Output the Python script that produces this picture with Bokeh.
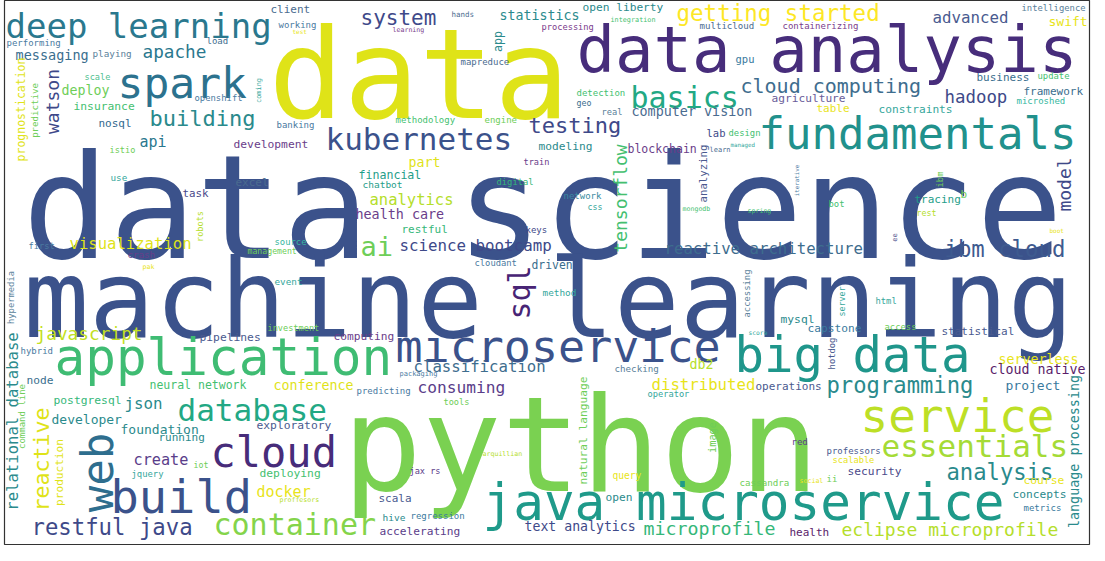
from bokeh.plotting import figure
from bokeh.models import ColumnDataSource, Range1d
from bokeh.core.properties import value
from bokeh.embed import file_html
from bokeh.resources import INLINE
import math

# word, x (left edge), y (middle), font size px, colour
big_words = [
    ("data", 276, 80, 125, "#dfe318"),
    ("data science", 30, 213, 144, "#3b528b"),
    ("machine learning", 31, 305, 109, "#3b528b"),
    ("python", 350, 450, 132, "#7ad151"),
    ("data analysis", 584, 55, 64, "#472d7b"),
    ("fundamentals", 766, 139, 44, "#21918c"),
    ("basics", 638, 103, 30, "#22a884"),
    ("microservice", 403, 352, 45, "#3b528b"),
    ("big data", 742, 361, 49, "#1f968b"),
    ("service", 868, 421, 46, "#bddf26"),
    ("essentials", 889, 451, 31, "#a5db36"),
    ("java microservice", 490, 508, 51, "#1f9a8a"),
    ("application", 62, 363, 51, "#3fbc73"),
    ("database", 185, 415, 31, "#22a884"),
    ("cloud", 218, 458, 42, "#472c7a"),
    ("build", 118, 502, 47, "#3b528b"),
    ("container", 221, 530, 30, "#84d44b"),
    ("deep learning", 13, 31, 34, "#2a788e"),
    ("spark", 125, 88, 43, "#2c728e"),
    ("kubernetes", 333, 144, 31, "#3b528b"),
    ("building", 157, 124, 22, "#2a8a8c"),
    ("ai", 368, 252, 27, "#6ece58"),
]

top_left = [
    ("client", 278, 15, 11, "#4a6b8f"), ("system", 368, 23, 21, "#3e4989"),
    ("hands", 459, 20, 7.5, "#4a6b8f"), ("working", 286, 30, 9, "#4a7a9f"),
    ("test", 300, 37, 6, "#e8e419"), ("learning", 400, 35, 6.6, "#7a3c8c"),
    ("performing", 14, 48, 9, "#4a7a9f"), ("load", 214, 46, 9, "#3e6d8e"),
    ("messaging", 23, 60, 13.5, "#3a6e8e"), ("playing", 100, 59, 9.3, "#5a7f9a"),
    ("apache", 150, 57, 17.7, "#2a788e"), ("mapreduce", 468, 67, 9, "#4a6b8f"),
    ("scale", 92, 82, 8.6, "#4fbf8f"), ("deploy", 69, 96, 13.3, "#6ece58"),
    ("openshift", 202, 103, 8.9, "#4a7a9f"), ("insurance", 81, 112, 11.3, "#44bf70"),
    ("nosql", 106, 129, 11, "#31688e"), ("banking", 284, 130, 9, "#4a7a9f"),
    ("methodology", 403, 125, 9, "#44bf70"), ("engine", 492, 125, 9, "#6ece58"),
    ("testing", 536, 131, 22, "#3e4989"), ("api", 147, 147, 15, "#2a788e"),
    ("istio", 117, 155, 8.6, "#6ece58"), ("development", 241, 150, 11.3, "#6a3d8a"),
    ("modeling", 546, 152, 11.2, "#2a8a8c"), ("part", 416, 168, 13.3, "#dfe318"),
    ("train", 531, 167, 8.6, "#6a3d8a"), ("financial", 366, 180, 11.6, "#1f9e89"),
    ("chatbot", 370, 190, 9.5, "#1f9e89"), ("digital", 504, 187, 8.8, "#35b779"),
    ("use", 118, 183, 9.3, "#35a79c"), ("excel", 243, 188, 11, "#4a6b8f"),
    ("task", 190, 199, 10.8, "#4a4a8a"), ("analytics", 377, 205, 15.5, "#b5de2b"),
    ("health care", 363, 220, 13.4, "#6a3d8a"), ("keys", 533, 235, 9, "#3e4989"),
    ("restful", 409, 235, 11, "#35b779"), ("science bootcamp", 407, 251, 15.8, "#3e4989"),
    ("visualization", 77, 249, 15.6, "#dfe318"), ("first", 36, 251, 8.7, "#4a7a9f"),
    ("source", 282, 247, 8.9, "#35b7a0"), ("management", 255, 256, 8.2, "#6ece58"),
    ("crash", 135, 260, 9.1, "#6a3d8a"), ("pak", 150, 272, 6.6, "#e8e419"),
    ("cloudant", 482, 268, 8.8, "#4a7a9f"), ("driven", 539, 270, 11.4, "#3a6e8e"),
    ("event", 282, 287, 9.3, "#35a79c"),
]

top_right = [
    ("getting started", 684, 18, 22.5, "#fde725"), ("advanced", 940, 23, 15.8, "#4a5a8f"),
    ("intelligence", 1029, 13, 8.9, "#5a7f9a"), ("swift", 1056, 27, 13, "#e8e419"),
    ("open liberty", 590, 13, 11.2, "#2a8a8c"), ("statistics", 507, 21, 13.3, "#2a8a8c"),
    ("processing", 549, 32, 8.7, "#7a3c8c"), ("integration", 618, 25, 6.8, "#44bf70"),
    ("multicloud", 707, 31, 9.1, "#4a6b8f"), ("containerizing", 790, 31, 9, "#7a3c8c"),
    ("gpu", 743, 64, 10.5, "#3a7a9e"), ("business", 984, 83, 11, "#3a6e8e"),
    ("update", 1045, 81, 8.9, "#44bf70"), ("detection", 584, 98, 9, "#44bf70"),
    ("geo", 584, 108, 8.3, "#3a6e8e"), ("real", 609, 117, 8.7, "#5a7f9a"),
    ("framework", 1031, 97, 11, "#3a6e8e"), ("microshed", 1024, 106, 9, "#35b7a0"),
    ("hadoop", 952, 102, 17.4, "#3e4989"), ("cloud computing", 748, 91, 20, "#3e6d8e"),
    ("agriculture", 779, 104, 11.2, "#6a5d9a"), ("constraints", 886, 115, 11.2, "#35a79c"),
    ("table", 824, 114, 11, "#e8e419"), ("computer vision", 639, 117, 13.4, "#4a6b8f"),
    ("lab", 714, 138, 10.5, "#3e4989"), ("design", 736, 138, 8.9, "#44bf70"),
    ("blockchain", 635, 154, 11.5, "#6a3d8a"), ("learn", 717, 155, 7, "#4a6b8f"),
    ("managed", 738, 150, 5.8, "#35a79c"), ("network", 571, 201, 9, "#3a8aa0"),
    ("css", 595, 212, 8.3, "#35a79c"), ("mongodb", 690, 214, 6.6, "#44bf70"),
    ("spring", 755, 216, 6.6, "#44bf70"), ("bot", 836, 209, 8.9, "#44bf70"),
    ("tracing", 922, 205, 11, "#1f9e89"), ("b", 968, 200, 11, "#6ece58"),
    ("rest", 924, 218, 8.3, "#b5de2b"), ("boot", 1057, 236, 6, "#e8e419"),
    ("reactive architecture", 672, 254, 15.7, "#3e6d8e"), ("ibm cloud", 952, 254, 22.3, "#3e5a8f"),
]

bottom_left = [
    ("javascript", 43, 339, 17.8, "#c2df23"), ("pipelines", 207, 343, 11.3, "#4a5a8f"),
    ("investment", 275, 333, 8.6, "#6ece58"), ("computing", 341, 342, 11.2, "#6a3d8a"),
    ("hybrid", 28, 356, 9, "#4a7a9f"), ("node", 34, 386, 11.2, "#3a6e8e"),
    ("neural network", 157, 390, 11.5, "#44bf70"), ("conference", 281, 391, 13.3, "#dfe318"),
    ("packaging", 407, 379, 7, "#4a7a9f"), ("predicting", 364, 396, 9, "#4a7a9f"),
    ("consuming", 425, 393, 16.2, "#5a3d8a"), ("tools", 451, 407, 8.6, "#6ece58"),
    ("postgresql", 61, 406, 11.3, "#35b779"), ("json", 132, 409, 15.8, "#2a8a8c"),
    ("developer", 59, 425, 13, "#2a8a8c"), ("foundation", 128, 435, 13, "#2a8a8c"),
    ("exploratory", 264, 431, 11.3, "#4a5a8f"), ("running", 166, 443, 11, "#2a8a8c"),
    ("create", 141, 465, 15.2, "#5a3d8a"), ("iot", 201, 470, 8.3, "#6ece58"),
    ("jquery", 139, 479, 8.9, "#35a79c"), ("deploying", 267, 479, 11.3, "#44bf70"),
    ("arquillian", 490, 459, 6.6, "#b5de2b"), ("jax rs", 417, 476, 8.6, "#5a3d8a"),
    ("docker", 264, 497, 15, "#e8e419"), ("proffesors", 287, 505, 6.6, "#b5de2b"),
    ("scala", 386, 504, 11, "#4a5a8f"), ("hive", 390, 523, 9.5, "#2a8a8c"),
    ("regression", 418, 521, 9, "#3a7a9e"), ("restful java", 39, 532, 22.3, "#3e4989"),
    ("accelerating", 387, 537, 11.2, "#5a3d8a"), ("classification", 421, 372, 15.7, "#3e6d8e"),
    ("text analytics", 532, 532, 13.2, "#3e4989"),
]

bottom_right = [
    ("method", 550, 298, 9.4, "#35a79c"), ("html", 883, 306, 8.8, "#35a79c"),
    ("mysql", 788, 325, 11.3, "#2a8a8c"), ("capstone", 815, 334, 11.2, "#3a7a9e"),
    ("access", 892, 332, 8.9, "#6ece58"), ("statistical", 949, 337, 11, "#4a5a8f"),
    ("score", 756, 338, 6.3, "#35a79c"), ("serverless", 1006, 365, 13.3, "#e8e419"),
    ("cloud native", 997, 375, 13.3, "#5a1d6a"), ("checking", 622, 374, 9.2, "#5a7f9a"),
    ("db2", 697, 370, 13.3, "#b5de2b"), ("distributed", 659, 390, 15.7, "#e8e419"),
    ("operations", 763, 392, 11, "#4a5a8f"), ("programming", 834, 390, 22.2, "#2a8a8c"),
    ("project", 1013, 391, 13, "#3a7a9e"), ("operator", 655, 399, 8.7, "#35a79c"),
    ("red", 799, 447, 9, "#5a3d8a"), ("professors", 834, 456, 9, "#4a5a8f"),
    ("scalable", 840, 465, 8.7, "#e8e419"), ("analysis", 954, 477, 22.2, "#2a8a8c"),
    ("security", 855, 477, 11.2, "#4a4a8a"), ("query", 620, 481, 9.6, "#e8e419"),
    ("cassandra", 747, 488, 9.2, "#6ece58"), ("social", 807, 486, 6.6, "#e8e419"),
    ("ii", 834, 484, 9, "#6ece58"), ("course", 1031, 486, 11.3, "#e8e419"),
    ("concepts", 1020, 500, 11.2, "#2a8a8c"), ("open", 613, 503, 11.2, "#2a8a8c"),
    ("metrics", 1031, 513, 9, "#3a7a9e"), ("microprofile", 651, 534, 18.3, "#35b779"),
    ("health", 797, 538, 11, "#5a1d6a"), ("eclipse microprofile", 849, 535, 18, "#b5de2b"),
]

# vertical words: word, x (centre), y (centre), font size px, colour
vertical_words = [
    ("app", 505, 47, 11.6, "#2a8a8c"), ("watson", 60, 107, 18, "#3e4989"),
    ("coming", 266, 96, 6.9, "#35a79c"), ("prognostication", 28, 115, 11.5, "#dfe318"),
    ("predictive", 42, 116, 9.1, "#6ece58"), ("robots", 207, 232, 8.6, "#b5de2b"),
    ("hypermedia", 18, 303, 8.8, "#5a7f9a"), ("tensorflow", 628, 204, 18, "#44bf70"),
    ("analyzing", 711, 179, 10.7, "#4a5a8f"), ("iterative", 804, 186, 5.8, "#4a7a9f"),
    ("ibm", 947, 185, 8.8, "#6ece58"), ("model", 1072, 190, 18, "#3e4989"),
    ("ee", 901, 243, 7, "#4a4a8a"), ("accessing", 754, 299, 8.9, "#5a7f9a"),
    ("server", 849, 307, 8.3, "#35a79c"), ("hotdog", 839, 359, 8.8, "#4a5a8f"),
    ("natural language", 591, 436, 11.2, "#6ece58"), ("language processing", 1082, 457, 13.4, "#2a8a8c"),
    ("image", 719, 443, 10.3, "#6ece58"), ("sql", 527, 298, 30, "#482475"),
    ("relational database", 20, 427, 15.6, "#2a8a8c"), ("command line", 29, 422, 9, "#6ece58"),
    ("reactive", 49, 465, 21.6, "#dfe318"), ("production", 67, 478, 11.1, "#dfe318"),
    ("web", 105, 478, 44, "#2e6e8e"),
]

p = figure(width=1092, height=548, x_range=Range1d(12, 1097), y_range=Range1d(550, 6),
           output_backend="svg", toolbar_location=None,
           min_border_left=4, min_border_right=3, min_border_top=0, min_border_bottom=4)
p.axis.visible = False
p.grid.visible = False
p.outline_line_color = "#333333"
p.outline_line_width = 1.2
p.background_fill_color = "white"


def make_source(rows):
    return ColumnDataSource(data=dict(
        word=[r[0] for r in rows],
        x=[r[1] for r in rows],
        y=[r[2] for r in rows],
        size=["%.1fpx" % r[3] for r in rows],
        color=[r[4] for r in rows],
    ))


font = value("DejaVu Sans Mono")
for rows in (big_words, top_left, top_right, bottom_left, bottom_right):
    p.text(x="x", y="y", text="word", source=make_source(rows), text_font=font,
           text_font_size="size", text_color="color",
           text_align="left", text_baseline="middle")

p.text(x="x", y="y", text="word", source=make_source(vertical_words), text_font=font,
       text_font_size="size", text_color="color", angle=math.pi / 2,
       text_align="center", text_baseline="middle")

open("out.html", "w").write(file_html(p, INLINE))
